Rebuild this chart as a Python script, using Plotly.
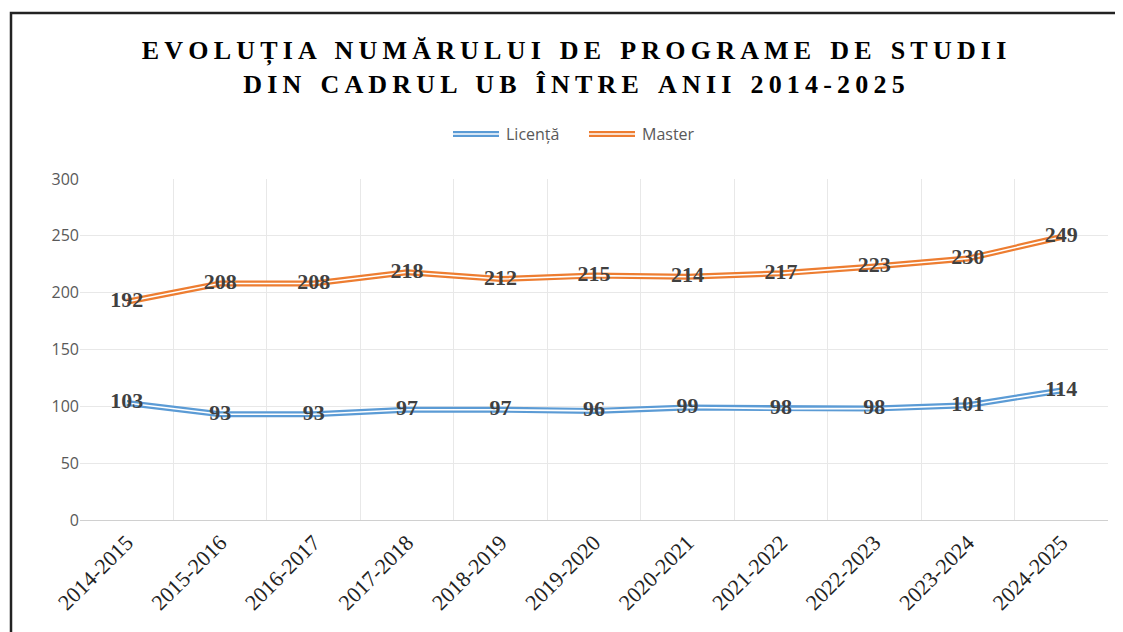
import plotly.graph_objects as go

# date
ani = ['2014-2015', '2015-2016', '2016-2017', '2017-2018', '2018-2019', '2019-2020',
       '2020-2021', '2021-2022', '2022-2023', '2023-2024', '2024-2025']
licenta = [103, 93, 93, 97, 97, 96, 99, 98, 98, 101, 114]
master = [192, 208, 208, 218, 212, 215, 214, 217, 223, 230, 249]

albastru = '#5B9BD5'
portocaliu = '#ED7D31'

# pagina html are margine de 8px, deci figura e mai mica si totul e mutat cu 8px
OFF = 8
W, H = 1123 - OFF, 632 - OFF
# zona graficului in pixeli (coordonate ecran)
L, R, T, B = 80, 1108, 179, 520


def px_x(p):
    return (p - L) / (R - L)


def px_y(p):
    return (B - p) / (B - T)


def rarit(s):
    # spatiere intre litere pentru titlu
    return '\u2009'.join(s).replace('\u2009 \u2009', ' \u2009\u2009\u200a')


fig = go.Figure()

# linii duble (culoare + dunga alba)
for vals, col in [(licenta, albastru), (master, portocaliu)]:
    fig.add_trace(go.Scatter(x=ani, y=vals, mode='lines',
                             line=dict(color=col, width=6), hoverinfo='skip'))
    fig.add_trace(go.Scatter(x=ani, y=vals, mode='lines',
                             line=dict(color='white', width=1.6), hoverinfo='skip'))

# etichete
for vals in [licenta, master]:
    fig.add_trace(go.Scatter(x=ani, y=vals, mode='text', text=[str(v) for v in vals],
                             textposition='middle center',
                             textfont=dict(family='Liberation Serif', size=22,
                                           color='#404040', weight='bold')))

titlu = rarit('EVOLUȚIA NUMĂRULUI DE PROGRAME DE STUDII') + '<br>' + \
    rarit('DIN CADRUL UB ÎNTRE ANII 2014-2025')

fig.update_layout(
    width=W, height=H,
    paper_bgcolor='white', plot_bgcolor='white',
    margin=dict(l=L - OFF, r=W - (R - OFF), t=T - OFF, b=H - (B - OFF)),
    showlegend=False,
    title=dict(text=titlu, xref='container', yref='container',
               x=(574 - OFF) / W, xanchor='center', y=1 - (59 - OFF) / H, yanchor='middle',
               font=dict(family='Liberation Serif', size=26, color='black', weight='bold')),
    xaxis=dict(type='category', range=[-0.5, 10.5], tickson='boundaries',
               showgrid=True, gridcolor='#E8E8E8', gridwidth=1,
               showline=True, linecolor='#D0D0D0', linewidth=1,
               ticks='', tickangle=-45,
               tickfont=dict(family='Liberation Serif', size=22, color='#222222')),
    yaxis=dict(range=[0, 300], dtick=50, showgrid=True, gridcolor='#E8E8E8',
               zeroline=False, showline=False, ticks='', ticklen=0,
               tickfont=dict(family='Open Sans', size=16, color='#595959')),
)

# legenda desenata manual (linii duble)
leg = [('Licență', albastru, 453), ('Master', portocaliu, 589)]
for nume, col, x0 in leg:
    for w, c in [(6, col), (1.6, 'white')]:
        fig.add_shape(type='line', xref='paper', yref='paper',
                      x0=px_x(x0), x1=px_x(x0 + 46), y0=px_y(134), y1=px_y(134),
                      line=dict(color=c, width=w))
    fig.add_annotation(xref='paper', yref='paper', x=px_x(x0 + 51), y=px_y(134),
                       xanchor='left', yanchor='middle', showarrow=False, text=nume,
                       font=dict(family='Open Sans', size=16, color='#595959'))

# chenar negru
fig.add_shape(type='rect', xref='paper', yref='paper',
              x0=px_x(11), x1=px_x(1140), y0=px_y(650), y1=px_y(13),
              line=dict(color='#222222', width=2.5), fillcolor='rgba(0,0,0,0)')

fig.write_html('out.html')
